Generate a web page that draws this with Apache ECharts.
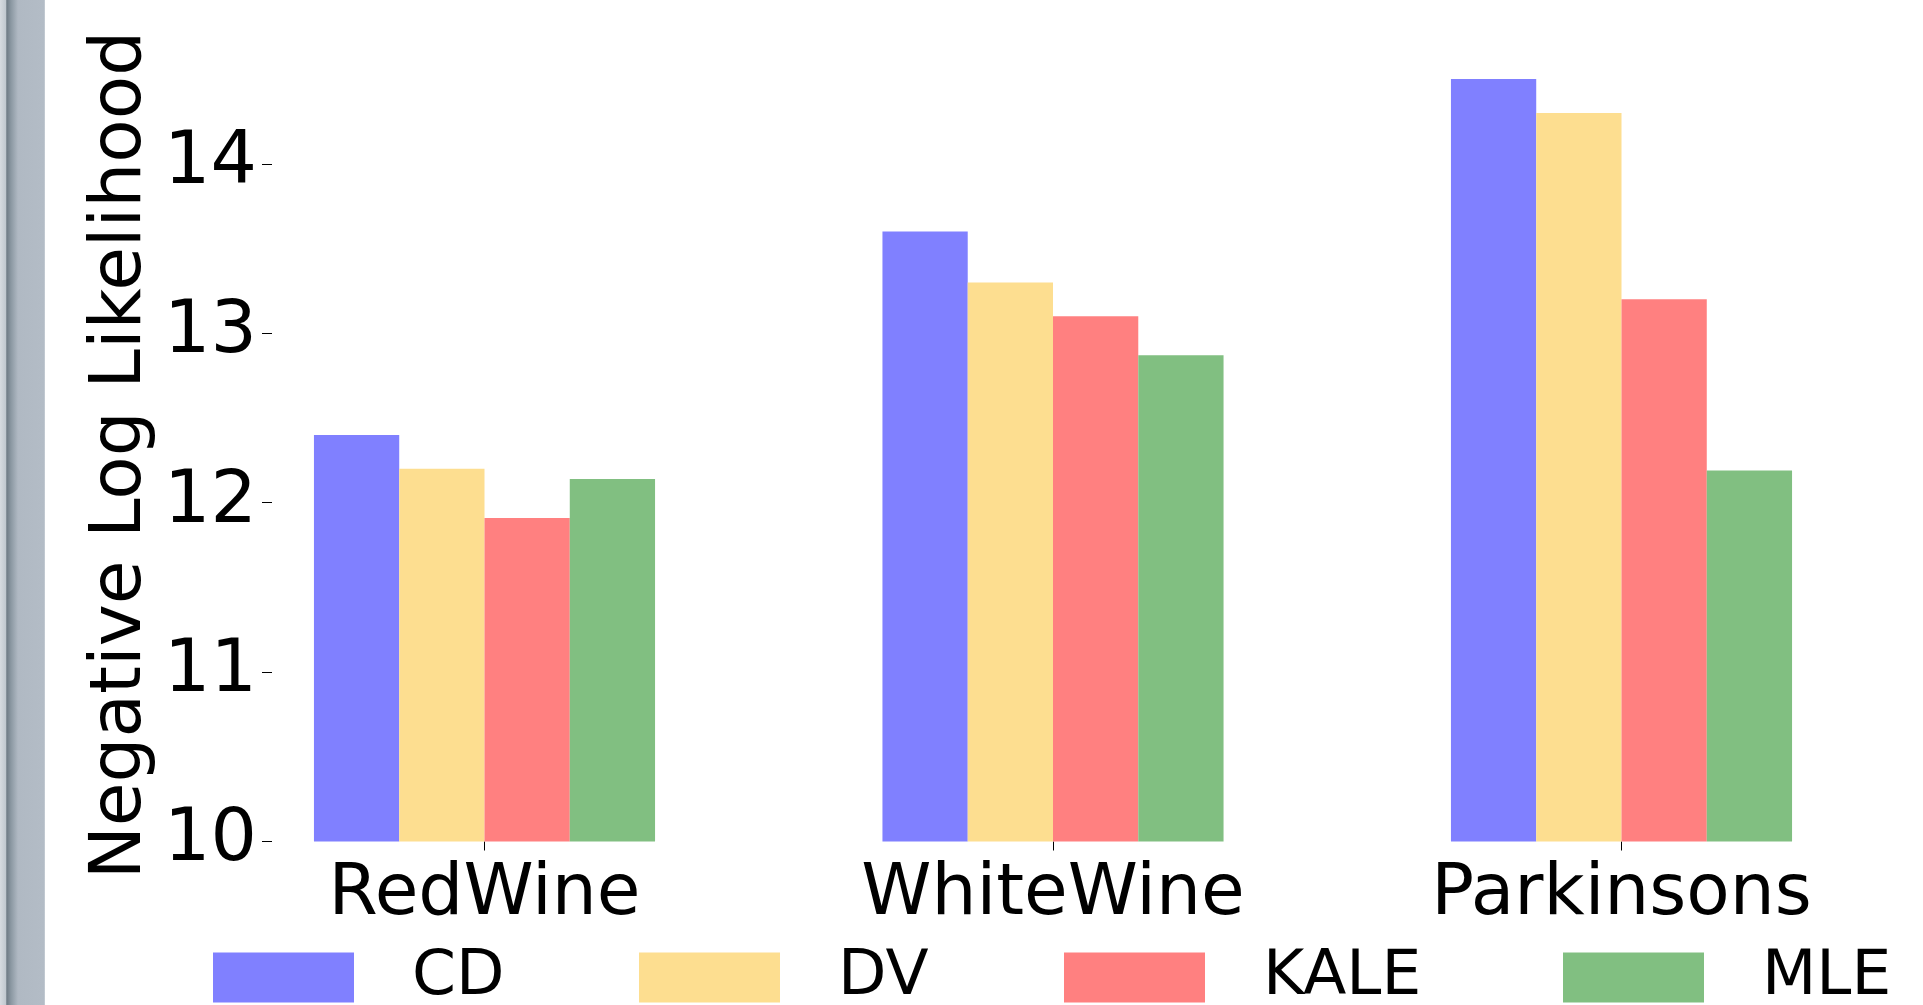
<!DOCTYPE html>
<html>
<head>
<meta charset="utf-8">
<script src="https://cdn.jsdelivr.net/npm/echarts@6/dist/echarts.min.js"></script>
<style>
  html, body { margin: 0; padding: 0; background: #fff; }
  #chart { width: 1923px; height: 1005px; }
</style>
</head>
<body>
<div id="chart"></div>
<script>
// Datasets on the x axis
const categories = ['RedWine', 'WhiteWine', 'Parkinsons'];

// Negative log likelihood per method
const cdValues   = [12.40, 13.60, 14.50];
const dvValues   = [12.20, 13.30, 14.30];
const kaleValues = [11.91, 13.10, 13.20];
const mleValues  = [12.14, 12.87, 12.19];

// Y axis tick labels
const yTicks = [10, 11, 12, 13, 14];

const FONT = 'DejaVu Sans';

const seriesDefs = [
  { name: 'CD',   data: cdValues,   color: '#8080ff' },
  { name: 'DV',   data: dvValues,   color: '#fdde90' },
  { name: 'KALE', data: kaleValues, color: '#ff8080' },
  { name: 'MLE',  data: mleValues,  color: '#81bf81' }
];

// one legend block per method, laid out in a single row
const legendLefts = [213, 639, 1064, 1563];

const chart = echarts.init(document.getElementById('chart'), null, { renderer: 'canvas' });

chart.setOption({
  backgroundColor: '#ffffff',
  animation: false,
  textStyle: { fontFamily: FONT },
  grid: { left: 200.25, right: 17.25, top: 0, bottom: 163.5, containLabel: false },
  xAxis: {
    type: 'category',
    data: categories,
    axisLine: { show: false },
    axisTick: { show: true, alignWithLabel: true, length: 9, lineStyle: { color: '#000', width: 1 } },
    axisLabel: { fontSize: 71, color: '#000', margin: 19, fontFamily: FONT },
    splitLine: { show: false }
  },
  yAxis: {
    type: 'value',
    min: 10,
    max: 14.967,
    interval: 1,
    offset: -71.75,
    axisLine: { show: false },
    axisTick: { show: true, length: 10, customValues: yTicks, lineStyle: { color: '#000', width: 1 } },
    axisLabel: { fontSize: 73, color: '#000', margin: 15, customValues: yTicks, fontFamily: FONT },
    splitLine: { show: false }
  },
  legend: seriesDefs.map((s, i) => ({
    data: [s.name],
    left: legendLefts[i],
    top: 946,
    padding: 0,
    itemWidth: 141,
    itemHeight: 50,
    icon: 'rect',
    selectedMode: false,
    textStyle: { fontSize: 63, color: '#000', fontFamily: FONT, padding: [0, 0, 0, 53] }
  })),
  series: seriesDefs.map(s => ({
    name: s.name,
    type: 'bar',
    data: s.data,
    barGap: '0%',
    barCategoryGap: '40%',
    itemStyle: { color: s.color },
    emphasis: { disabled: true }
  })),
  graphic: [
    {
      type: 'rect',
      left: 0, top: 0,
      shape: { x: 0, y: 0, width: 45, height: 1005 },
      style: {
        fill: {
          type: 'linear', x: 0, y: 0, x2: 1, y2: 0,
          colorStops: [
            { offset: 0.00, color: '#d6dbe0' },
            { offset: 0.13, color: '#c0c8cf' },
            { offset: 0.15, color: '#6e7b85' },
            { offset: 0.24, color: '#8a97a1' },
            { offset: 0.40, color: '#b0b9c3' },
            { offset: 0.97, color: '#b3bcc6' },
            { offset: 1.00, color: '#c9d0d7' }
          ]
        }
      },
      silent: true
    },
    {
      type: 'text',
      x: 122, y: 455,
      rotation: Math.PI / 2,
      style: {
        text: 'Negative Log Likelihood',
        fontFamily: FONT,
        fontSize: 71,
        fill: '#000',
        align: 'center',
        verticalAlign: 'middle'
      },
      silent: true
    }
  ]
});
</script>
</body>
</html>
